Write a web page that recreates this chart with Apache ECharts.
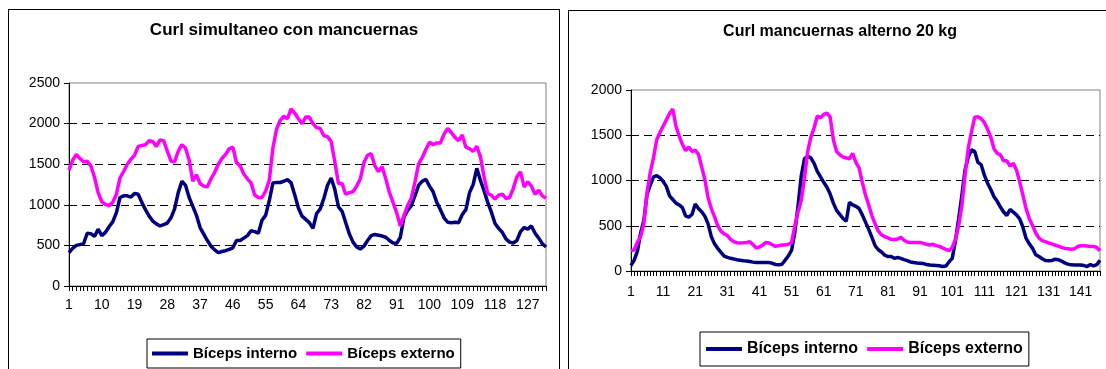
<!DOCTYPE html>
<html>
<head>
<meta charset="utf-8">
<script src="https://cdn.jsdelivr.net/npm/echarts@6/dist/echarts.min.js"></script>
<style>
	html, body { margin: 0; padding: 0; width: 1106px; height: 369px; overflow: hidden; background: #fff; }
	.frame { position: absolute; border: 1px solid #000; background: #fff; }
	#left { left: 8px; top: 9px; width: 550px; height: 380px; }
	#right { left: 568px; top: 10px; width: 542px; height: 380px; }
	.chart { width: 100%; height: 100%; }
</style>
</head>
<body>
<div id="left" class="frame"><div id="chartLeft" class="chart"></div></div>
<div id="right" class="frame"><div id="chartRight" class="chart"></div></div>
<script>
// Curl simultaneo con mancuernas (132 muestras)
var simInterno = [
	410, 463, 500, 510, 520, 650, 645, 610, 700, 620,
	660, 730, 790, 900, 1090, 1110, 1110, 1095, 1140, 1130,
	1030, 940, 860, 800, 765, 740, 755, 775, 840, 950,
	1150, 1290, 1240, 1090, 980, 870, 720, 640, 560, 490,
	445, 410, 425, 435, 450, 470, 560, 560, 590, 620,
	680, 670, 650, 810, 870, 1050, 1270, 1275, 1275, 1290,
	1310, 1270, 1120, 960, 860, 820, 780, 710, 893, 950,
	1080, 1240, 1330, 1190, 975, 920, 780, 640, 540, 480,
	455, 490, 560, 620, 635, 625, 615, 600, 560, 530,
	525, 600, 850, 930, 990, 1110, 1240, 1290, 1315, 1230,
	1160, 1030, 940, 840, 785, 780, 785, 780, 880, 940,
	1150, 1250, 1450, 1300, 1170, 1030, 910, 770, 710, 660,
	580, 540, 530, 560, 670, 720, 700, 740, 650, 590,
	520, 480
];
var simExterno = [
	1426, 1549, 1620, 1570, 1530, 1535, 1480, 1340, 1150, 1040,
	1005, 990, 1030, 1130, 1330, 1410, 1500, 1560, 1610, 1720,
	1730, 1740, 1790, 1780, 1720, 1800, 1790, 1660, 1540, 1530,
	1660, 1740, 1700, 1550, 1290, 1370, 1262, 1230, 1221, 1320,
	1400, 1500, 1570, 1620, 1690, 1710, 1520, 1480, 1380, 1320,
	1270, 1120, 1090, 1090, 1170, 1300, 1700, 1930, 2040, 2090,
	2060, 2180, 2130, 2060, 2000, 2080, 2080, 2000, 1950, 1940,
	1850, 1840, 1780, 1530, 1262, 1262, 1130, 1150, 1160, 1230,
	1320, 1520, 1610, 1630, 1480, 1410, 1470, 1320, 1150, 1030,
	900, 740, 870, 990, 1080, 1280, 1500, 1580, 1680, 1770,
	1740, 1762, 1762, 1870, 1940, 1890, 1830, 1790, 1860, 1710,
	1690, 1660, 1720, 1590, 1340, 1139, 1119, 1070, 1119, 1131,
	1078, 1090, 1200, 1344, 1406, 1221, 1283, 1229, 1130, 1180,
	1110, 1080
];

// Curl mancuernas alterno 20 kg (147 muestras)
var altInterno = [
	60, 120, 220, 420, 560, 850, 950, 1040, 1054, 1031,
	990, 935, 830, 790, 750, 730, 700, 610, 596, 625,
	740, 690, 655, 605, 520, 380, 300, 250, 205, 165,
	150, 140, 132, 125, 119, 114, 110, 105, 98, 93,
	93, 93, 93, 93, 85, 72, 68, 75, 120, 168,
	230, 430, 720, 1050, 1240, 1266, 1250, 1190, 1100, 1040,
	980, 925, 850, 750, 670, 625, 580, 550, 760, 730,
	715, 690, 620, 540, 460, 372, 279, 235, 210, 175,
	160, 160, 140, 149, 140, 125, 115, 100, 93, 88,
	85, 82, 72, 66, 64, 62, 58, 50, 54, 100,
	140, 335, 577, 838, 1120, 1260, 1340, 1320, 1200, 1175,
	1060, 970, 900, 820, 770, 707, 652, 614, 680, 650,
	620, 577, 484, 360, 300, 250, 180, 160, 135, 115,
	112, 115, 130, 125, 110, 90, 76, 68, 67, 67,
	67, 60, 50, 72, 56, 70, 120
];
var altExterno = [
	223, 235, 320, 380, 520, 870, 1090, 1250, 1450, 1530,
	1600, 1670, 1740, 1790, 1600, 1490, 1400, 1330, 1370, 1320,
	1335, 1290, 1150, 1010, 810, 690, 600, 500, 440, 410,
	392, 350, 325, 312, 309, 312, 316, 324, 290, 255,
	265, 287, 315, 310, 290, 272, 280, 287, 287, 295,
	316, 500, 650, 780, 1024, 1322, 1480, 1582, 1713, 1694,
	1731, 1745, 1700, 1450, 1320, 1285, 1260, 1250, 1240, 1300,
	1200, 1140, 980, 840, 730, 610, 520, 440, 400, 380,
	365, 350, 348, 354, 372, 340, 320, 316, 316, 316,
	316, 305, 295, 287, 295, 280, 272, 255, 240, 225,
	260, 350, 500, 720, 1060, 1360, 1540, 1700, 1705, 1685,
	1640, 1565, 1480, 1350, 1300, 1284, 1217, 1217, 1160, 1190,
	1117, 987, 838, 689, 577, 503, 420, 365, 335, 324,
	310, 300, 287, 275, 262, 250, 245, 240, 245, 270,
	279, 279, 275, 272, 272, 260, 223
];

var seriesNames = ['Bíceps interno', 'Bíceps externo'];
var colors = ['#000080', '#FF00FF'];
var font = 'Arial, "Liberation Sans", sans-serif';

function categories(n) {
	var c = [];
	for (var i = 1; i <= n; i++) c.push(String(i));
	return c;
}

function buildOption(cfg) {
	return {
		animation: false,
		color: colors,
		title: {
			text: cfg.title,
			left: 'center',
			top: cfg.titleTop,
			padding: 0,
			textStyle: { fontFamily: font, fontSize: cfg.titleSize, fontWeight: 'bold', color: '#000' }
		},
		legend: {
			data: seriesNames,
			left: cfg.legendLeft,
			top: cfg.legendTop,
			orient: 'horizontal',
			icon: 'rect',
			itemWidth: 36,
			itemHeight: 4,
			itemGap: 9,
			padding: cfg.legendPadding,
			borderColor: '#000',
			borderWidth: 1,
			textStyle: { fontFamily: font, fontSize: cfg.legendSize, fontWeight: 'bold', color: '#000' }
		},
		grid: {
			left: cfg.grid[0], top: cfg.grid[1], width: cfg.grid[2], height: cfg.grid[3],
			show: true, borderColor: '#808080', borderWidth: 1, backgroundColor: '#fff'
		},
		xAxis: {
			type: 'category',
			data: categories(cfg.interno.length),
			boundaryGap: false,
			axisLine: { lineStyle: { color: '#000', width: 1 } },
			axisTick: { show: true, interval: 0, length: 5, lineStyle: { color: '#000' } },
			axisLabel: { interval: cfg.labelInterval, margin: cfg.xMargin, fontFamily: font, fontSize: 14, color: '#000' },
			splitLine: { show: false }
		},
		yAxis: {
			type: 'value',
			min: 0,
			max: cfg.yMax,
			interval: 500,
			axisLine: { show: true, lineStyle: { color: '#000', width: 1 } },
			axisTick: { show: true, length: 5, lineStyle: { color: '#000' } },
			axisLabel: {
				margin: 9, fontFamily: font, fontSize: 14, color: '#000',
				formatter: function(v) { return String(v); }
			},
			splitLine: {
				show: true, showMinLine: false, showMaxLine: false,
				lineStyle: { color: '#000', width: 1, type: [8, 5] }
			}
		},
		series: [{
			name: seriesNames[0],
			type: 'line',
			data: cfg.interno,
			showSymbol: false,
			lineStyle: { width: 3.5, color: colors[0] }
		}, {
			name: seriesNames[1],
			type: 'line',
			data: cfg.externo,
			showSymbol: false,
			lineStyle: { width: 3.5, color: colors[1] }
		}]
	};
}

var chartLeft = echarts.init(document.getElementById('chartLeft'));
chartLeft.setOption(buildOption({
	title: 'Curl simultaneo con mancuernas',
	titleTop: 12,
	titleSize: 17,
	legendLeft: 138,
	legendTop: 329,
	legendPadding: [7, 6, 7, 5],
	legendSize: 15,
	grid: [60, 73, 477, 203],
	labelInterval: 8,
	xMargin: 12,
	yMax: 2500,
	interno: simInterno,
	externo: simExterno
}));

var chartRight = echarts.init(document.getElementById('chartRight'));
chartRight.setOption(buildOption({
	title: 'Curl mancuernas alterno 20 kg',
	titleTop: 13,
	titleSize: 16,
	legendLeft: 131,
	legendTop: 321,
	legendPadding: [9, 6, 9, 6],
	legendSize: 16,
	grid: [62, 79, 469, 181],
	labelInterval: 9,
	xMargin: 14,
	yMax: 2000,
	interno: altInterno,
	externo: altExterno
}));
</script>
</body>
</html>
